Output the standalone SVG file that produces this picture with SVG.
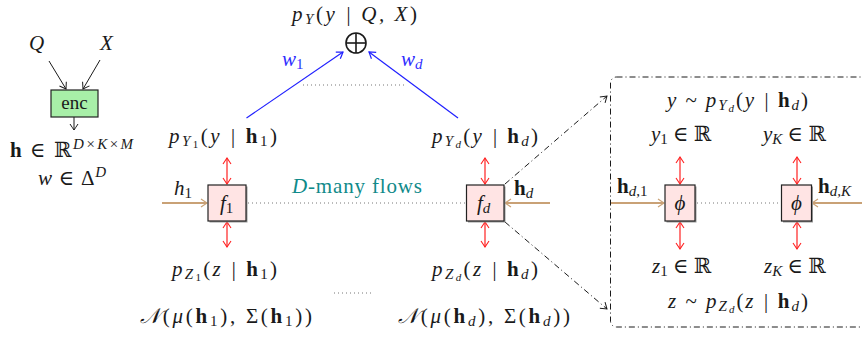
<svg xmlns="http://www.w3.org/2000/svg" width="862" height="339" viewBox="0 0 862 339" font-family="'Liberation Serif', 'Times New Roman', Tinos, 'DejaVu Serif', serif">
<style>
text{font-family:'Liberation Serif','Times New Roman',Tinos,'DejaVu Serif',serif;font-size:21px;fill:#1a1a1a}
.i{font-style:italic}
.b{font-weight:bold;font-style:normal}
.u{font-style:normal}
.sb{font-size:15px}
.ss{font-size:11px}
.blue{fill:#3030ff}
.teal{fill:#108a8a}
.red{stroke:#ff2020;stroke-width:1.2;fill:none}
.tan{stroke:#c9a176;stroke-width:2;fill:none}
.blk{stroke:#1a1a1a;stroke-width:1;fill:none}
.bl{stroke:#2020ff;stroke-width:1.2;fill:none}
.dot{stroke:#777;stroke-width:1;stroke-dasharray:1 3;fill:none}
.dd{stroke:#1a1a1a;stroke-width:1;stroke-dasharray:6 3 1 3;fill:none}
.fbox{fill:#ffe4e4;stroke:#222;stroke-width:1.2}
.shadow{fill:#999}
</style>
<defs>
<marker id="aR" viewBox="-7 -5 8 10" refX="0" refY="0" markerWidth="8" markerHeight="10" markerUnits="userSpaceOnUse" orient="auto-start-reverse"><path d="M-6,-4 Q-1.5,-1 0,0 Q-1.5,1 -6,4" fill="none" stroke="#ff2020" stroke-width="1.1"/></marker>
<marker id="aT" viewBox="-7 -5 8 10" refX="0" refY="0" markerWidth="8" markerHeight="10" markerUnits="userSpaceOnUse" orient="auto"><path d="M-6,-4 Q-1.5,-1 0,0 Q-1.5,1 -6,4" fill="none" stroke="#c9a176" stroke-width="1.2"/></marker>
<marker id="aK" viewBox="-7 -5 8 10" refX="0" refY="0" markerWidth="8" markerHeight="10" markerUnits="userSpaceOnUse" orient="auto"><path d="M-6,-4 Q-1.5,-1 0,0 Q-1.5,1 -6,4" fill="none" stroke="#1a1a1a" stroke-width="1"/></marker>
<marker id="aB" viewBox="-7 -5 8 10" refX="0" refY="0" markerWidth="8" markerHeight="10" markerUnits="userSpaceOnUse" orient="auto"><path d="M-6,-4 Q-1.5,-1 0,0 Q-1.5,1 -6,4" fill="none" stroke="#2020ff" stroke-width="1.2"/></marker>
</defs>
<rect width="862" height="339" fill="#fff"/>

<g id="connectors">
<line class="blk" x1="49" y1="61" x2="66" y2="89" marker-end="url(#aK)"/>
<line class="blk" x1="100" y1="60" x2="83" y2="89" marker-end="url(#aK)"/>
<line class="blk" x1="74" y1="117" x2="74" y2="130" marker-end="url(#aK)"/>
<line class="bl" x1="246.5" y1="118" x2="343" y2="52" marker-end="url(#aB)"/>
<line class="bl" x1="458" y1="118" x2="369" y2="52" marker-end="url(#aB)"/>
<line class="dot" x1="303" y1="85" x2="404" y2="85"/>
<line class="red" x1="227" y1="158" x2="227" y2="184" marker-start="url(#aR)" marker-end="url(#aR)"/>
<line class="red" x1="227" y1="222" x2="227" y2="247" marker-start="url(#aR)" marker-end="url(#aR)"/>
<line class="red" x1="485" y1="158" x2="485" y2="184" marker-start="url(#aR)" marker-end="url(#aR)"/>
<line class="red" x1="485" y1="222" x2="485" y2="247" marker-start="url(#aR)" marker-end="url(#aR)"/>
<line class="red" x1="680" y1="157" x2="680" y2="184" marker-start="url(#aR)" marker-end="url(#aR)"/>
<line class="red" x1="680" y1="222" x2="680" y2="249" marker-start="url(#aR)" marker-end="url(#aR)"/>
<line class="red" x1="797" y1="157" x2="797" y2="184" marker-start="url(#aR)" marker-end="url(#aR)"/>
<line class="red" x1="797" y1="222" x2="797" y2="249" marker-start="url(#aR)" marker-end="url(#aR)"/>
<line class="tan" x1="162" y1="203" x2="207" y2="203" marker-end="url(#aT)"/>
<line class="tan" x1="550" y1="203" x2="505" y2="203" marker-end="url(#aT)"/>
<line class="tan" x1="611" y1="203" x2="664" y2="203" marker-end="url(#aT)"/>
<line class="tan" x1="864" y1="203" x2="812" y2="203" marker-end="url(#aT)"/>
<line class="dot" x1="248" y1="203" x2="466" y2="203"/>
<line class="dot" x1="697" y1="203" x2="781" y2="203"/>
<line class="dot" x1="334" y1="293" x2="374" y2="293"/>
<line class="dd" x1="505" y1="184" x2="607" y2="96" marker-end="url(#aK)"/>
<line class="dd" x1="505" y1="222" x2="607" y2="309" marker-end="url(#aK)"/>
<rect class="dd" x="610.5" y="77" width="270" height="250" rx="6"/>
</g>

<g id="enc">
<rect x="51" y="90" width="47" height="27" fill="#a8efa8" stroke="#222" stroke-width="1.2"/>
<text class="u" x="74.5" y="109" text-anchor="middle" style="font-size:19px">enc</text>
</g>
<g id="inputs">
<text class="i" x="29" y="50" style="font-size:21px">Q</text>
<text class="i" x="100" y="50" style="font-size:21px">X</text>
</g>
<g id="enc-out">
<text x="10" y="157" textLength="123" lengthAdjust="spacing"><tspan class="b">h</tspan> ∈ ℝ<tspan class="i sb" dy="-8">D×K×M</tspan></text>
<text x="38" y="185" textLength="68" lengthAdjust="spacing"><tspan class="i">w</tspan> ∈ Δ<tspan class="i sb" dy="-8">D</tspan></text>
</g>

<g id="mixture">
<text class="i" x="292" y="21" textLength="125" lengthAdjust="spacing">p<tspan class="sb" dy="3">Y</tspan><tspan class="u" dy="-3">(</tspan>y | Q, X<tspan class="u">)</tspan></text>
<circle cx="356" cy="43" r="10" fill="none" stroke="#1a1a1a" stroke-width="1.6"/>
<line x1="346" y1="43" x2="366" y2="43" stroke="#1a1a1a" stroke-width="1.6"/>
<line x1="356" y1="33" x2="356" y2="53" stroke="#1a1a1a" stroke-width="1.6"/>
<text class="i blue" x="282" y="66">w<tspan class="u sb" dy="3">1</tspan></text>
<text class="i blue" x="401" y="66">w<tspan class="sb" dy="3">d</tspan></text>
</g>

<g id="flow1">
<text class="i" x="169" y="143" textLength="108" lengthAdjust="spacing">p<tspan class="sb" dy="3">Y</tspan><tspan class="u ss" dy="2">1</tspan><tspan class="u" dy="-5">(</tspan>y | <tspan class="b">h</tspan><tspan class="u sb" dy="3">1</tspan><tspan class="u" dy="-3">)</tspan></text>
<rect class="shadow" x="209.5" y="186.5" width="38" height="36"/>
<rect class="fbox" x="208" y="185" width="38" height="36"/>
<text class="i" x="220" y="210">f<tspan class="u sb" dy="3">1</tspan></text>
<text class="i" x="174" y="195">h<tspan class="u sb" dy="3">1</tspan></text>
<text class="i" x="172" y="276" textLength="105" lengthAdjust="spacing">p<tspan class="sb" dy="3">Z</tspan><tspan class="u ss" dy="2">1</tspan><tspan class="u" dy="-5">(</tspan>z | <tspan class="b">h</tspan><tspan class="u sb" dy="3">1</tspan><tspan class="u" dy="-3">)</tspan></text>
<text x="140" y="323" textLength="172" lengthAdjust="spacing"><tspan class="i">𝒩</tspan>(<tspan class="i">μ</tspan>(<tspan class="b">h</tspan><tspan class="sb" dy="3">1</tspan><tspan dy="-3">), Σ(</tspan><tspan class="b">h</tspan><tspan class="sb" dy="3">1</tspan><tspan dy="-3">))</tspan></text>
</g>

<g id="label-flows">
<text class="teal" x="292" y="193" textLength="130" lengthAdjust="spacing"><tspan class="i">D</tspan>-many flows</text>
</g>

<g id="flowd">
<text class="i" x="432" y="143" textLength="106" lengthAdjust="spacing">p<tspan class="sb" dy="3">Y</tspan><tspan class="ss" dy="2">d</tspan><tspan class="u" dy="-5">(</tspan>y | <tspan class="b">h</tspan><tspan class="sb" dy="3">d</tspan><tspan class="u" dy="-3">)</tspan></text>
<rect class="shadow" x="468" y="186.5" width="37.5" height="36"/>
<rect class="fbox" x="466.5" y="185" width="37.5" height="36"/>
<text class="i" x="477" y="210">f<tspan class="sb" dy="3">d</tspan></text>
<text x="514" y="195"><tspan class="b">h</tspan><tspan class="i sb" dy="3">d</tspan></text>
<text class="i" x="432" y="276" textLength="106" lengthAdjust="spacing">p<tspan class="sb" dy="3">Z</tspan><tspan class="ss" dy="2">d</tspan><tspan class="u" dy="-5">(</tspan>z | <tspan class="b">h</tspan><tspan class="sb" dy="3">d</tspan><tspan class="u" dy="-3">)</tspan></text>
<text x="398" y="323" textLength="172" lengthAdjust="spacing"><tspan class="i">𝒩</tspan>(<tspan class="i">μ</tspan>(<tspan class="b">h</tspan><tspan class="i sb" dy="3">d</tspan><tspan dy="-3">), Σ(</tspan><tspan class="b">h</tspan><tspan class="i sb" dy="3">d</tspan><tspan dy="-3">))</tspan></text>
</g>

<g id="detail">
<text class="i" x="667" y="107" textLength="141" lengthAdjust="spacing">y <tspan class="u">~</tspan> p<tspan class="sb" dy="3">Y</tspan><tspan class="ss" dy="2">d</tspan><tspan class="u" dy="-5">(</tspan>y | <tspan class="b">h</tspan><tspan class="sb" dy="3">d</tspan><tspan class="u" dy="-3">)</tspan></text>
<text class="i" x="651" y="141">y<tspan class="u sb" dy="3">1</tspan><tspan class="u" dy="-3"> ∈ ℝ</tspan></text>
<text class="i" x="763" y="141">y<tspan class="sb" dy="3">K</tspan><tspan class="u" dy="-3"> ∈ ℝ</tspan></text>
<text x="617" y="193"><tspan class="b">h</tspan><tspan class="i sb" dy="3">d</tspan><tspan class="sb">,1</tspan></text>
<text x="818" y="193"><tspan class="b">h</tspan><tspan class="i sb" dy="3">d,K</tspan></text>
</g>
<g id="phi1">
<rect class="shadow" x="666.5" y="186.5" width="30" height="36"/>
<rect class="fbox" x="665" y="185" width="30" height="36"/>
<text class="i" x="680" y="210" text-anchor="middle">ϕ</text>
</g>
<g id="phiK">
<rect class="shadow" x="783" y="186.5" width="30" height="36"/>
<rect class="fbox" x="781.5" y="185" width="30" height="36"/>
<text class="i" x="796.5" y="210" text-anchor="middle">ϕ</text>
</g>
<g id="detail-z">
<text class="i" x="652" y="273">z<tspan class="u sb" dy="3">1</tspan><tspan class="u" dy="-3"> ∈ ℝ</tspan></text>
<text class="i" x="764" y="273">z<tspan class="sb" dy="3">K</tspan><tspan class="u" dy="-3"> ∈ ℝ</tspan></text>
<text class="i" x="668" y="308" textLength="140" lengthAdjust="spacing">z <tspan class="u">~</tspan> p<tspan class="sb" dy="3">Z</tspan><tspan class="ss" dy="2">d</tspan><tspan class="u" dy="-5">(</tspan>z | <tspan class="b">h</tspan><tspan class="sb" dy="3">d</tspan><tspan class="u" dy="-3">)</tspan></text>
</g>
</svg>
